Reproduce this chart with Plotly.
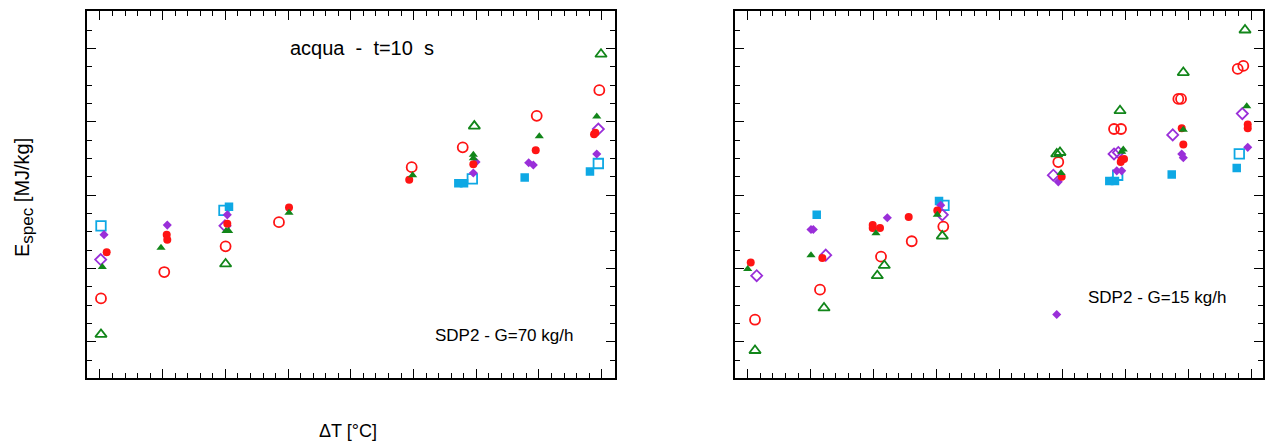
import plotly.graph_objects as go

# ---------------- data: left panel (G = 70 kg/h) ----------------
L_tri_open_x = [10.16, 30.03, 69.69, 89.89]
L_tri_open_y = [1.10, 2.06, 3.94, 4.92]
L_tri_fill_x = [10.37, 19.73, 30.09, 30.52, 40.14, 59.85, 69.53, 69.53, 80.05, 89.21]
L_tri_fill_y = [2.02, 2.28, 2.51, 2.51, 2.76, 3.27, 3.55, 3.50, 3.80, 4.07]
L_cir_open_x = [10.16, 20.25, 30.03, 38.54, 59.70, 67.84, 79.64, 89.62]
L_cir_open_y = [1.59, 1.95, 2.30, 2.63, 3.38, 3.65, 4.08, 4.43]
L_cir_fill_x = [11.07, 20.64, 20.73, 30.30, 40.14, 59.31, 69.53, 79.48, 88.78, 88.99]
L_cir_fill_y = [2.22, 2.46, 2.39, 2.61, 2.83, 3.21, 3.42, 3.61, 3.83, 3.85]
L_dia_open_x = [10.11, 29.93, 89.46]
L_dia_open_y = [2.12, 2.58, 3.90]
L_dia_fill_x = [10.64, 20.73, 30.30, 69.96, 69.53, 78.36, 79.10, 89.21]
L_dia_fill_y = [2.46, 2.59, 2.73, 3.45, 3.30, 3.44, 3.41, 3.56]
L_sq_open_x = [10.16, 29.77, 69.37, 89.46]
L_sq_open_y = [2.58, 2.79, 3.22, 3.43]
L_sq_fill_x = [30.57, 67.14, 68.05, 77.72, 88.13]
L_sq_fill_y = [2.84, 3.16, 3.16, 3.24, 3.32]

# ---------------- data: right panel (G = 15 kg/h) ----------------
R_tri_open_x = [11.16, 22.13, 31.71, 30.60, 40.93, 59.12, 59.64, 69.18, 79.24, 89.05]
R_tri_open_y = [0.88, 1.46, 2.04, 1.90, 2.44, 3.56, 3.58, 4.15, 4.67, 5.25]
R_tri_fill_x = [10.00, 20.06, 30.39, 40.14, 59.80, 69.70, 69.45, 79.24, 89.32]
R_tri_fill_y = [1.99, 2.18, 2.48, 2.73, 3.30, 3.62, 3.59, 3.89, 4.21]
R_cir_open_x = [11.16, 21.49, 31.19, 36.07, 41.09, 59.37, 68.23, 69.34, 78.45, 78.88, 87.89, 88.78]
R_cir_open_y = [1.30, 1.71, 2.16, 2.37, 2.57, 3.45, 3.90, 3.90, 4.31, 4.31, 4.72, 4.76]
R_cir_fill_x = [10.48, 21.86, 29.87, 29.87, 31.03, 35.59, 40.14, 59.91, 69.45, 69.82, 69.29,
                78.99, 79.24, 89.48, 89.48]
R_cir_fill_y = [2.08, 2.14, 2.59, 2.55, 2.55, 2.70, 2.79, 3.25, 3.48, 3.49, 3.45,
                3.91, 3.69, 3.96, 3.91]
R_dia_open_x = [11.43, 22.40, 40.93, 58.58, 68.23, 68.91, 77.56, 88.62]
R_dia_open_y = [1.90, 2.18, 2.73, 3.27, 3.56, 3.58, 3.82, 4.11]
R_dia_fill_x = [20.06, 20.43, 32.19, 40.68, 59.12, 59.37, 68.66, 69.45, 78.99, 79.24, 89.48]
R_dia_fill_y = [2.53, 2.53, 2.69, 2.86, 1.37, 3.18, 3.33, 3.33, 3.56, 3.51, 3.65]
R_sq_open_x = [41.20, 68.81, 88.14]
R_sq_open_y = [2.86, 3.27, 3.56]
R_sq_fill_x = [20.97, 40.41, 67.48, 68.38, 77.40, 87.73]
R_sq_fill_y = [2.73, 2.92, 3.19, 3.19, 3.28, 3.37]

# ---------------- styling ----------------
GREEN = "#12861a"
RED = "#ff1414"
PURPLE = "#9a2fd9"
BLUE = "#0ea8e4"
FONT = "Liberation Sans, Arial, Helvetica, sans-serif"
W, H = 1266, 444

# (series key, marker symbol, colour, size, filled)
series_style = [
    ("sq_fill", "square", BLUE, 8.5, True),
    ("sq_open", "square-open", BLUE, 9.5, False),
    ("dia_fill", "diamond", PURPLE, 7, True),
    ("dia_open", "diamond-open", PURPLE, 8.5, False),
    ("cir_fill", "circle", RED, 8, True),
    ("cir_open", "circle-open", RED, 10, False),
    ("tri_fill", "triangle-up", GREEN, 8, True),
    ("tri_open", "triangle-up-open", GREEN, 10, False),
]

fig = go.Figure()


def add_panel(prefix, xa, ya):
    g = globals()
    for key, symbol, color, size, filled in series_style:
        xs = g[f"{prefix}_{key}_x"]
        ys = g[f"{prefix}_{key}_y"]
        marker = dict(symbol=symbol, size=size, color=color)
        marker["line"] = dict(width=0) if filled else dict(color=color, width=1.8)
        fig.add_trace(go.Scatter(
            x=xs, y=ys, mode="markers", marker=marker,
            xaxis=xa, yaxis=ya, showlegend=False, hoverinfo="x+y",
        ))


add_panel("L", "x", "y")
add_panel("R", "x2", "y2")


def xaxis_style(domain, rng, anchor):
    return dict(
        domain=domain, range=rng, showgrid=False, zeroline=False, anchor=anchor,
        showline=True, linecolor="black", linewidth=1.6, mirror="allticks",
        ticks="inside", ticklen=9, tickwidth=1.3, tickcolor="black",
        tick0=0, dtick=10, showticklabels=False,
        minor=dict(ticks="inside", ticklen=5, tickwidth=1.1, tickcolor="black",
                   dtick=2, showgrid=False),
    )


def yaxis_style(domain, rng, anchor):
    return dict(
        domain=domain, range=rng, showgrid=False, zeroline=False, anchor=anchor,
        showline=True, linecolor="black", linewidth=1.6, mirror="allticks",
        ticks="inside", ticklen=9, tickwidth=1.3, tickcolor="black",
        tick0=0, dtick=1, showticklabels=False,
        minor=dict(ticks="inside", ticklen=5, tickwidth=1.1, tickcolor="black",
                   dtick=0.25, showgrid=False),
    )


ydom = [1 - 377.5 / H, 1 - 10.8 / H]
fig.update_layout(
    width=W, height=H,
    margin=dict(l=0, r=0, t=0, b=0),
    paper_bgcolor="white", plot_bgcolor="white",
    font=dict(family=FONT, color="black"),
    xaxis=xaxis_style([87 / W, 615 / W], [7.93, 92.12], "y"),
    yaxis=yaxis_style(ydom, [0.512, 5.512], "x"),
    xaxis2=xaxis_style([735 / W, 1262.7 / W], [7.98, 91.86], "y2"),
    yaxis2=yaxis_style(ydom, [0.512, 5.512], "x2"),
)


def px_note(text, x, y, size, angle=0):
    fig.add_annotation(
        text=text, x=x / W, y=1 - y / H, xref="paper", yref="paper",
        xanchor="center", yanchor="middle", showarrow=False, textangle=angle,
        font=dict(family=FONT, size=size, color="black"),
    )


NB = "\u00a0"
px_note(f"acqua{NB}{NB}-{NB}{NB}t=10{NB}{NB}s", 362, 48, 20)
px_note("SDP2 - G=70 kg/h", 504, 335, 17)
px_note("SDP2 - G=15 kg/h", 1157, 297, 17)
px_note("ΔT [°C]", 348, 431, 18)
px_note("E<sub><span style='font-size:17px'>spec</span></sub> [MJ/kg]", 24, 198, 20, angle=-90)

fig.write_html("out.html")
